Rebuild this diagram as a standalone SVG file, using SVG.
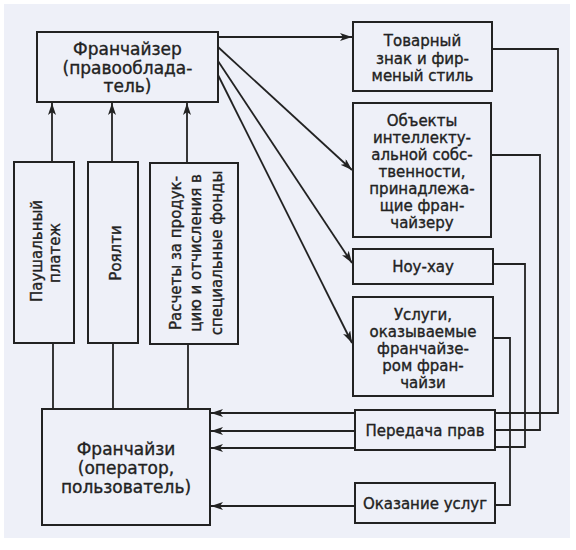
<svg xmlns="http://www.w3.org/2000/svg" width="576" height="550" viewBox="0 0 576 550">
<defs>
<marker id="ah" viewBox="0 0 12 8" refX="12" refY="4" markerWidth="12" markerHeight="8" markerUnits="userSpaceOnUse" orient="auto">
<path d="M0,0 L12,4 L0,8 L3,4 Z" fill="#222"/>
</marker>
</defs>
<style>
.bx{fill:#eef0f8;stroke:#222;stroke-width:2}
.ln{fill:none;stroke:#222;stroke-width:1.8}
.ar{marker-end:url(#ah)}
text{font-family:"DejaVu Sans","Liberation Sans",Arial,sans-serif;fill:#222;stroke:#222;stroke-width:0.35;text-anchor:middle}
.t17{font-size:17px}
.t15{font-size:15px}
</style>
<rect x="0" y="0" width="576" height="550" fill="#ffffff"/>
<rect x="4" y="4" width="566" height="534" fill="#eef0f8"/>
<g id="connectors">
<path class="ln ar" d="M52,162 V103"/>
<path class="ln ar" d="M112,162 V103"/>
<path class="ln ar" d="M187,163 V103"/>
<path class="ln" d="M53,409 V343"/>
<path class="ln" d="M113,409 V343"/>
<path class="ln" d="M188,409 V344"/>
<path class="ln ar" d="M218,37 H352"/>
<path class="ln ar" d="M218,47 L352,170"/>
<path class="ln ar" d="M218,61 L352,263"/>
<path class="ln ar" d="M218,75 L352,343"/>
<path class="ln" d="M492,49 H558 V413 H495"/>
<path class="ln ar" d="M355,413 H211"/>
<path class="ln" d="M491,155 H540 V430 H495"/>
<path class="ln ar" d="M355,431 H211"/>
<path class="ln" d="M493,264 H525 V447 H495"/>
<path class="ln ar" d="M355,448 H211"/>
<path class="ln" d="M493,338 H510 V505 H495"/>
<path class="ln ar" d="M355,506 H211"/>
</g>
<g id="franchisor">
<rect class="bx" x="37" y="32" width="181" height="70"/>
<text class="t17" x="127.5" y="55">Франчайзер</text>
<text class="t17" x="127.5" y="73.5">(правооблада-</text>
<text class="t17" x="127.5" y="92">тель)</text>
</g>
<g id="lump-sum">
<rect class="bx" x="14" y="162" width="60" height="181"/>
<text class="t15" transform="translate(42,251) rotate(-90)">Паушальный</text>
<text class="t15" transform="translate(60,253) rotate(-90)">платеж</text>
</g>
<g id="royalty">
<rect class="bx" x="88" y="162" width="50" height="181"/>
<text class="t15" transform="translate(121,253) rotate(-90)">Роялти</text>
</g>
<g id="payments">
<rect class="bx" x="150" y="163" width="88" height="181"/>
<text class="t15" transform="translate(181,253) rotate(-90)">Расчеты за продук-</text>
<text class="t15" transform="translate(201,253) rotate(-90)">цию и отчисления в</text>
<text class="t15" transform="translate(222,253) rotate(-90)">специальные фонды</text>
</g>
<g id="trademark">
<rect class="bx" x="353" y="22" width="139" height="69"/>
<text class="t15" x="422.5" y="46">Товарный</text>
<text class="t15" x="422.5" y="63.5">знак и фир-</text>
<text class="t15" x="422.5" y="81">меный стиль</text>
</g>
<g id="ip">
<rect class="bx" x="353" y="103" width="138" height="134"/>
<text class="t15" x="422" y="126">Объекты</text>
<text class="t15" x="422" y="143">интеллекту-</text>
<text class="t15" x="422" y="160">альной собс-</text>
<text class="t15" x="422" y="177">твенности,</text>
<text class="t15" x="422" y="194">принадлежа-</text>
<text class="t15" x="422" y="211">щие фран-</text>
<text class="t15" x="422" y="228">чайзеру</text>
</g>
<g id="knowhow">
<rect class="bx" x="353" y="249" width="140" height="35"/>
<text class="t15" x="423" y="272">Ноу-хау</text>
</g>
<g id="services">
<rect class="bx" x="353" y="297" width="140" height="99"/>
<text class="t15" x="423" y="320">Услуги,</text>
<text class="t15" x="423" y="337">оказываемые</text>
<text class="t15" x="423" y="354">франчайзе-</text>
<text class="t15" x="423" y="371">ром фран-</text>
<text class="t15" x="423" y="388">чайзи</text>
</g>
<g id="rights-transfer">
<rect class="bx" x="355" y="410" width="140" height="40"/>
<text class="t15" x="425" y="436">Передача прав</text>
</g>
<g id="service-provision">
<rect class="bx" x="355" y="483" width="140" height="40"/>
<text class="t15" x="425" y="509">Оказание услуг</text>
</g>
<g id="franchisee">
<rect class="bx" x="42" y="409" width="168" height="116"/>
<text class="t17" x="126" y="455">Франчайзи</text>
<text class="t17" x="126" y="474">(оператор,</text>
<text class="t17" x="126" y="493">пользователь)</text>
</g>
</svg>
